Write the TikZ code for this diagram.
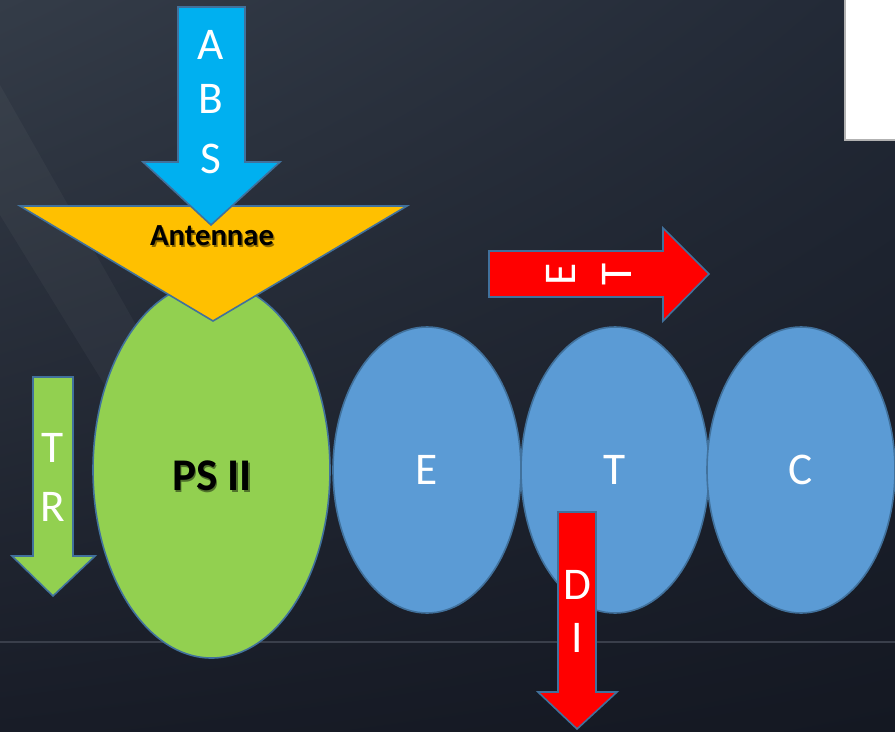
\documentclass[tikz,border=0pt]{standalone}
\usepackage{fontspec}
\setmainfont{Carlito}
\usetikzlibrary{shapes.geometric,shadings}

\definecolor{bgUL}{HTML}{343C48}
\definecolor{bgUR}{HTML}{222936}
\definecolor{bgLL}{HTML}{181C27}
\definecolor{bgLR}{HTML}{141822}
\definecolor{outl}{HTML}{41719C}
\definecolor{skyb}{HTML}{00B0F0}
\definecolor{gold}{HTML}{FFC000}
\definecolor{leaf}{HTML}{92D050}
\definecolor{steel}{HTML}{5B9BD5}
\definecolor{redf}{HTML}{FF0000}
\definecolor{rule}{HTML}{3A3F4B}

\tikzset{
  shapeline/.style={draw=outl, line width=1.2pt, line join=miter},
  letter/.style={text=white, font=\fontsize{34}{34}\selectfont, inner sep=0pt},
  boldlabel/.style={text=black, font=\bfseries, inner sep=0pt},
  shadowlabel/.style={text=black, opacity=0.45, font=\bfseries, inner sep=0pt},
  blob/.style={ellipse, shapeline, inner sep=0pt, fill=steel,
               minimum width=141pt, minimum height=214.5pt},
}

\begin{document}
\begin{tikzpicture}[x=0.75pt, y=-0.75pt]
  \useasboundingbox (0,0) rectangle (895,731);

  % slide background
  \shade[upper left=bgUL, upper right=bgUR, lower left=bgLL, lower right=bgLR]
    (0,0) rectangle (895,731);
  \fill[white, opacity=0.035] (0,85) -- (0,215) -- (120,410) -- (170,385) -- cycle;
  \draw[rule, line width=1.2pt] (0,642) -- (895,642);

  % photosystem and carriers
  \node[ellipse, shapeline, fill=leaf, inner sep=0pt,
        minimum width=177.75pt, minimum height=282pt] (ps) at (211.5,470) {};
  \node[blob] (e) at (427,470) {};
  \node[blob] (t) at (615,470) {};
  \node[blob] (c) at (801,470) {};
  \node[letter] (el) at (e.center) {E};
  \node[letter] (tl) at (t.center) {T};
  \node[letter] (cl) at (c.center) {C};
  \node[shadowlabel, font=\bfseries\fontsize{34}{34}\selectfont] (psshadow) at (213.5,478) {PS II};
  \node[boldlabel, font=\bfseries\fontsize{34}{34}\selectfont] (pslabel) at (212,476) {PS II};

  % antenna funnel
  \draw[shapeline, fill=gold] (20,206) -- (407,206) -- (213,321) -- cycle;
  \node[shadowlabel, font=\bfseries\fontsize{23}{23}\selectfont] (antshadow) at (213.5,237.5) {Antennae};
  \node[boldlabel, font=\bfseries\fontsize{23}{23}\selectfont] (antlabel) at (212,236) {Antennae};

  % absorption arrow
  \draw[shapeline, fill=skyb] (178,7) -- (245,7) -- (245,162) -- (280,162)
    -- (211,225) -- (143,162) -- (178,162) -- cycle;
  \node[letter] (absa) at (211,45) {A};
  \node[letter] (absb) at (211,99) {B};
  \node[letter] (abss) at (211,159) {S};

  % transfer arrow
  \draw[shapeline, fill=leaf] (33,377) -- (73,377) -- (73,556) -- (95,556)
    -- (53,596) -- (12,556) -- (33,556) -- cycle;
  \node[letter] (trt) at (53,448) {T};
  \node[letter] (trr) at (53,507) {R};

  % electron transport arrow
  \draw[shapeline, fill=redf] (489,251) -- (663,251) -- (663,228) -- (709,274)
    -- (663,321) -- (663,297) -- (489,297) -- cycle;
  \node[letter, rotate=90] (ete) at (561,274) {E};
  \node[letter, rotate=90] (ett) at (617,274) {T};

  % dissipation arrow
  \draw[shapeline, fill=redf] (558,512) -- (596,512) -- (596,692) -- (617,692)
    -- (577,729) -- (538,692) -- (558,692) -- cycle;
  \node[letter] (did) at (577,585) {D};
  \node[letter] (dii) at (577,638) {I};

  % white panel in the corner
  \fill[white] (845,0) rectangle (895,140);
  \draw[gray!60, line width=1pt] (845,0) -- (845,140) -- (895,140);
\end{tikzpicture}
\end{document}
